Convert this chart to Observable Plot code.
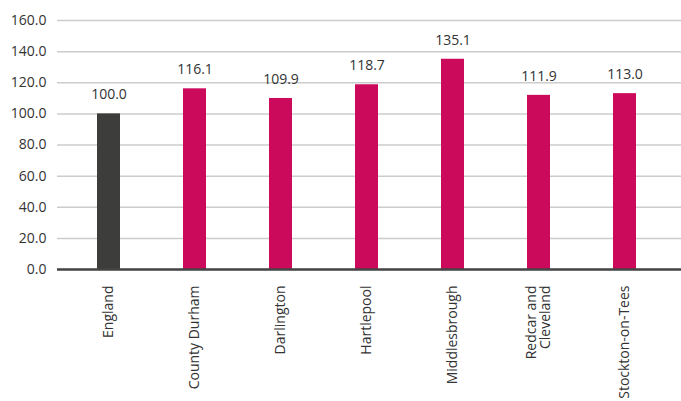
<!DOCTYPE html>
<html>
<head>
<meta charset="utf-8">
<script src="https://cdn.jsdelivr.net/npm/d3@7"></script>
<script src="https://cdn.jsdelivr.net/npm/@observablehq/plot@0.6"></script>
<style>
  html, body { margin: 0; padding: 0; background: #fff; }
  #chart { width: 681px; height: 401px; overflow: hidden; }
</style>
</head>
<body>
<div id="chart"></div>
<script>
const categories = ["England", "County Durham", "Darlington", "Hartlepool", "Middlesbrough", "Redcar and\nCleveland", "Stockton-on-Tees"];
const values = [100.0, 116.1, 109.9, 118.7, 135.1, 111.9, 113.0];
const barColors = ["#3d3d3b", "#cc0a5c", "#cc0a5c", "#cc0a5c", "#cc0a5c", "#cc0a5c", "#cc0a5c"];
const yTicks = [0, 20, 40, 60, 80, 100, 120, 140, 160];

const data = categories.map((c, i) => ({category: c, value: values[i], color: barColors[i]}));

const chart = Plot.plot({
  width: 681,
  height: 401,
  marginLeft: 57,
  marginRight: 0,
  marginTop: 20,
  marginBottom: 132,
  style: {fontFamily: "Open Sans", fontSize: "14px", color: "#333", background: "#fff"},
  x: {domain: categories, paddingInner: 0.733, paddingOuter: 0.486, align: 0.47, axis: null},
  y: {domain: [0, 160], axis: null},
  color: {type: "identity"},
  marks: [
    Plot.gridY(yTicks, {stroke: "#cccccc", strokeOpacity: 1, strokeWidth: 1.5}),
    Plot.barY(data, {x: "category", y: "value", fill: "color"}),
    Plot.ruleY([0], {stroke: "#444444", strokeWidth: 2.5}),
    Plot.axisY(yTicks, {label: null, tickSize: 0, tickPadding: 11, tickFormat: d => d.toFixed(1), fontSize: 14, fill: "#333"}),
    Plot.axisX({label: null, tickSize: 0, tickPadding: 16, tickRotate: -90, textAnchor: "end", lineAnchor: "middle", fontSize: 14, fill: "#333"}),
    Plot.text(data, {x: "category", y: "value", text: d => d.value.toFixed(1), dy: -19, fontSize: 14, fill: "#333"})
  ]
});
document.getElementById("chart").appendChild(chart);
</script>
</body>
</html>
